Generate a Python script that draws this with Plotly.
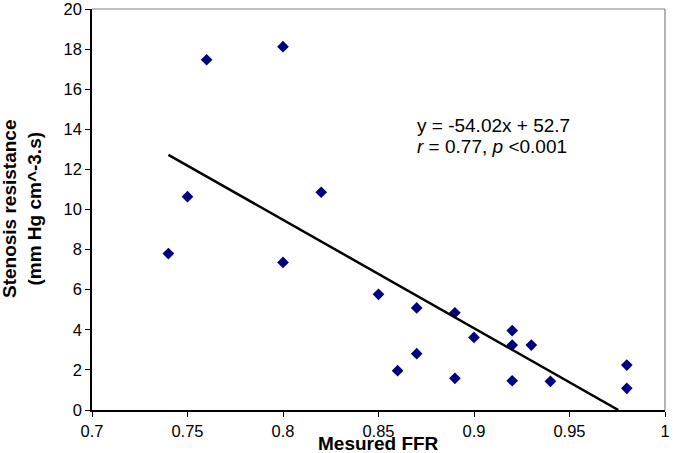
import plotly.graph_objects as go

ffr = [0.74, 0.75, 0.76, 0.80, 0.80, 0.82, 0.85, 0.86, 0.87, 0.87,
       0.89, 0.89, 0.90, 0.92, 0.92, 0.92, 0.93, 0.94, 0.98, 0.98]
resistance = [7.80, 10.64, 17.47, 18.12, 7.36, 10.86, 5.77, 1.96, 5.09, 2.81,
              4.85, 1.58, 3.62, 3.96, 3.24, 1.46, 3.24, 1.43, 2.24, 1.08]

slope = -54.02
intercept = 52.7
fit_x = [min(ffr), -intercept / slope]
fit_y = [slope * x + intercept for x in fit_x]

x_ticks = [0.7, 0.75, 0.8, 0.85, 0.9, 0.95, 1.0]
x_tick_labels = ["0.7", "0.75", "0.8", "0.85", "0.9", "0.95", "1"]
y_ticks = list(range(0, 21, 2))

FONT = "Liberation Sans, Arial, sans-serif"

fig = go.Figure()
fig.add_trace(go.Scatter(
    x=ffr, y=resistance, mode="markers",
    marker=dict(symbol="diamond", size=9, color="#000080"),
    showlegend=False, hoverinfo="x+y"))
fig.add_trace(go.Scatter(
    x=fit_x, y=fit_y, mode="lines",
    line=dict(color="black", width=2.5),
    showlegend=False, hoverinfo="skip"))

fig.update_layout(
    width=673, height=453,
    margin=dict(l=92, r=8, t=9, b=43, autoexpand=False),
    paper_bgcolor="white", plot_bgcolor="white",
    font=dict(family=FONT, color="black", size=16),
    xaxis=dict(range=[0.7, 1.0], tickvals=x_ticks, ticktext=x_tick_labels,
               showgrid=False, zeroline=False, showline=True, automargin=False,
               linecolor="black", linewidth=1.5, ticks="outside",
               ticklen=5, tickcolor="black", tickfont=dict(size=16.5),
               ticklabeloverflow="allow"),
    yaxis=dict(range=[0, 20], tickvals=y_ticks,
               showgrid=False, zeroline=False, showline=True, automargin=False,
               linecolor="black", linewidth=1.5, ticks="outside",
               ticklen=5, tickcolor="black", tickfont=dict(size=16.5),
               ticklabeloverflow="allow"),
    shapes=[
        dict(type="line", xref="paper", yref="paper", x0=0, x1=1, y0=1, y1=1,
             line=dict(color="#808080", width=1.2)),
        dict(type="line", xref="paper", yref="paper", x0=1, x1=1, y0=0, y1=1,
             line=dict(color="#808080", width=1.2)),
    ],
    annotations=[
        dict(text="y = -54.02x + 52.7", x=0.869, y=14.2, xref="x", yref="y",
             xanchor="left", yanchor="middle", showarrow=False,
             font=dict(size=19)),
        dict(text="<i>r</i> = 0.77, <i>p</i> <0.001", x=0.869, y=13.15,
             xref="x", yref="y", xanchor="left", yanchor="middle",
             showarrow=False, font=dict(size=19)),
        dict(text="<b>Mesured FFR</b>", x=0.5, y=0, xref="paper",
             yref="paper", yanchor="middle", yshift=-33.5,
             showarrow=False, font=dict(size=19)),
        dict(text="<b>Stenosis resistance<br>(mm Hg cm^-3.s)</b>",
             x=0, y=0.5, xref="paper", yref="paper", xanchor="center",
             xshift=-70.5, showarrow=False, textangle=-90, font=dict(size=19)),
    ],
)

fig.write_html("out.html",
               config={"displayModeBar": False},
               post_script="document.body.style.margin='0';"
                           "document.body.style.overflow='hidden';")
